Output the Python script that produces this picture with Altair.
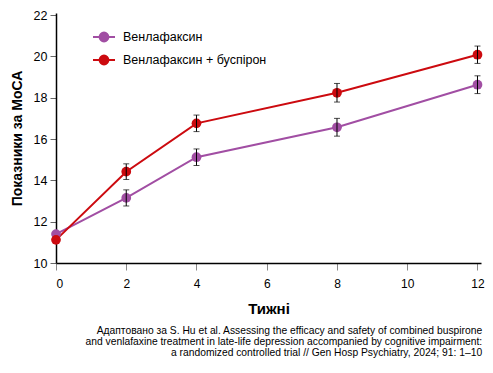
import altair as alt
import pandas as pd

weeks = [0, 2, 4, 8, 12]
series_names = ["Венлафаксин", "Венлафаксин + буспірон"]
venla = [11.4, 13.15, 15.12, 16.57, 18.63]
venla_err = [0.0, 0.39, 0.4, 0.43, 0.43]
combo = [11.12, 14.42, 16.76, 18.24, 20.08]
combo_err = [0.0, 0.38, 0.4, 0.45, 0.42]
colors = ["#a14ea3", "#cc0a0f"]

x_ticks = [0, 2, 4, 6, 8, 10, 12]
y_ticks = [10, 12, 14, 16, 18, 20, 22]

footnote = [
    "Адаптовано за S. Hu et al. Assessing the efficacy and safety of combined buspirone",
    "and venlafaxine treatment in late-life depression accompanied by cognitive impairment:",
    "a randomized controlled trial // Gen Hosp Psychiatry, 2024; 91: 1–10",
]

rows = []
for name, vals, errs in [(series_names[0], venla, venla_err), (series_names[1], combo, combo_err)]:
    for w, v, e in zip(weeks, vals, errs):
        rows.append({"week": w, "score": v, "err": e, "group": name,
                     "lo": v - e, "hi": v + e})
df = pd.DataFrame(rows)
df_err = df[df["err"] > 0]

FONT = "Liberation Sans"

xscale = alt.Scale(domain=[0, 12.1], nice=False, zero=False)
yscale = alt.Scale(domain=[10, 22.1], nice=False, zero=False)
cscale = alt.Scale(domain=series_names, range=colors)

sym_path = "M-1,0H1M-0.4,0A0.4,0.4,0,1,1,0.4,0A0.4,0.4,0,1,1,-0.4,0Z"

legend = alt.Legend(
    title=None, orient="none", legendX=36, legendY=12,
    symbolType=sym_path, symbolSize=484, symbolStrokeWidth=2, symbolOpacity=1,
    labelFontSize=12.5, labelOffset=7, rowPadding=2, padding=0,
    labelColor="#000000",
)

x_axis = alt.Axis(values=x_ticks, title="Тижні", titleFontSize=15, titleFontWeight="bold",
                  titlePadding=12, labelFontSize=12, labelPadding=8, tickSize=7,
                  tickColor="#888888", domainColor="#000000", domainWidth=1.5,
                  grid=False, labelColor="#000000", titleColor="#000000")
y_axis = alt.Axis(values=y_ticks, title="Показники за МоСА", titleFontSize=14,
                  titleFontWeight="bold", titlePadding=9, labelFontSize=12.5, labelPadding=3,
                  tickSize=6, tickColor="#666666", domainColor="#000000", domainWidth=1.5,
                  grid=False, labelColor="#000000", titleColor="#000000")

base = alt.Chart(df)

lines = base.mark_line(strokeWidth=2).encode(
    x=alt.X("week:Q", scale=xscale, axis=x_axis),
    y=alt.Y("score:Q", scale=yscale, axis=y_axis),
    color=alt.Color("group:N", scale=cscale, sort=series_names, legend=legend),
)

points = base.mark_point(size=95, opacity=1, filled=True).encode(
    x="week:Q", y="score:Q",
    color=alt.Color("group:N", scale=cscale, sort=series_names, legend=legend),
)

err_rules = alt.Chart(df_err).mark_rule(color="#000000", strokeWidth=1).encode(
    x="week:Q", y="lo:Q", y2="hi:Q",
)
err_lo = alt.Chart(df_err).mark_tick(color="#000000", thickness=1, size=6, orient="horizontal").encode(
    x="week:Q", y="lo:Q",
)
err_hi = alt.Chart(df_err).mark_tick(color="#000000", thickness=1, size=6, orient="horizontal").encode(
    x="week:Q", y="hi:Q",
)

chart = alt.layer(lines, points, err_rules, err_lo, err_hi).properties(
    width=425, height=250,
    autosize=alt.AutoSizeParams(type="none"),
    padding={"left": 48, "top": 5, "right": 4, "bottom": 97},
    title=alt.TitleParams(text=footnote, orient="bottom", anchor="end", fontSize=10.3,
                          fontWeight="normal", lineHeight=11, offset=10, dx=-2,
                          color="#000000", font=FONT),
).configure(font=FONT).configure_view(stroke=None)

chart.save("out.html", embed_options={"renderer": "svg", "actions": False})
